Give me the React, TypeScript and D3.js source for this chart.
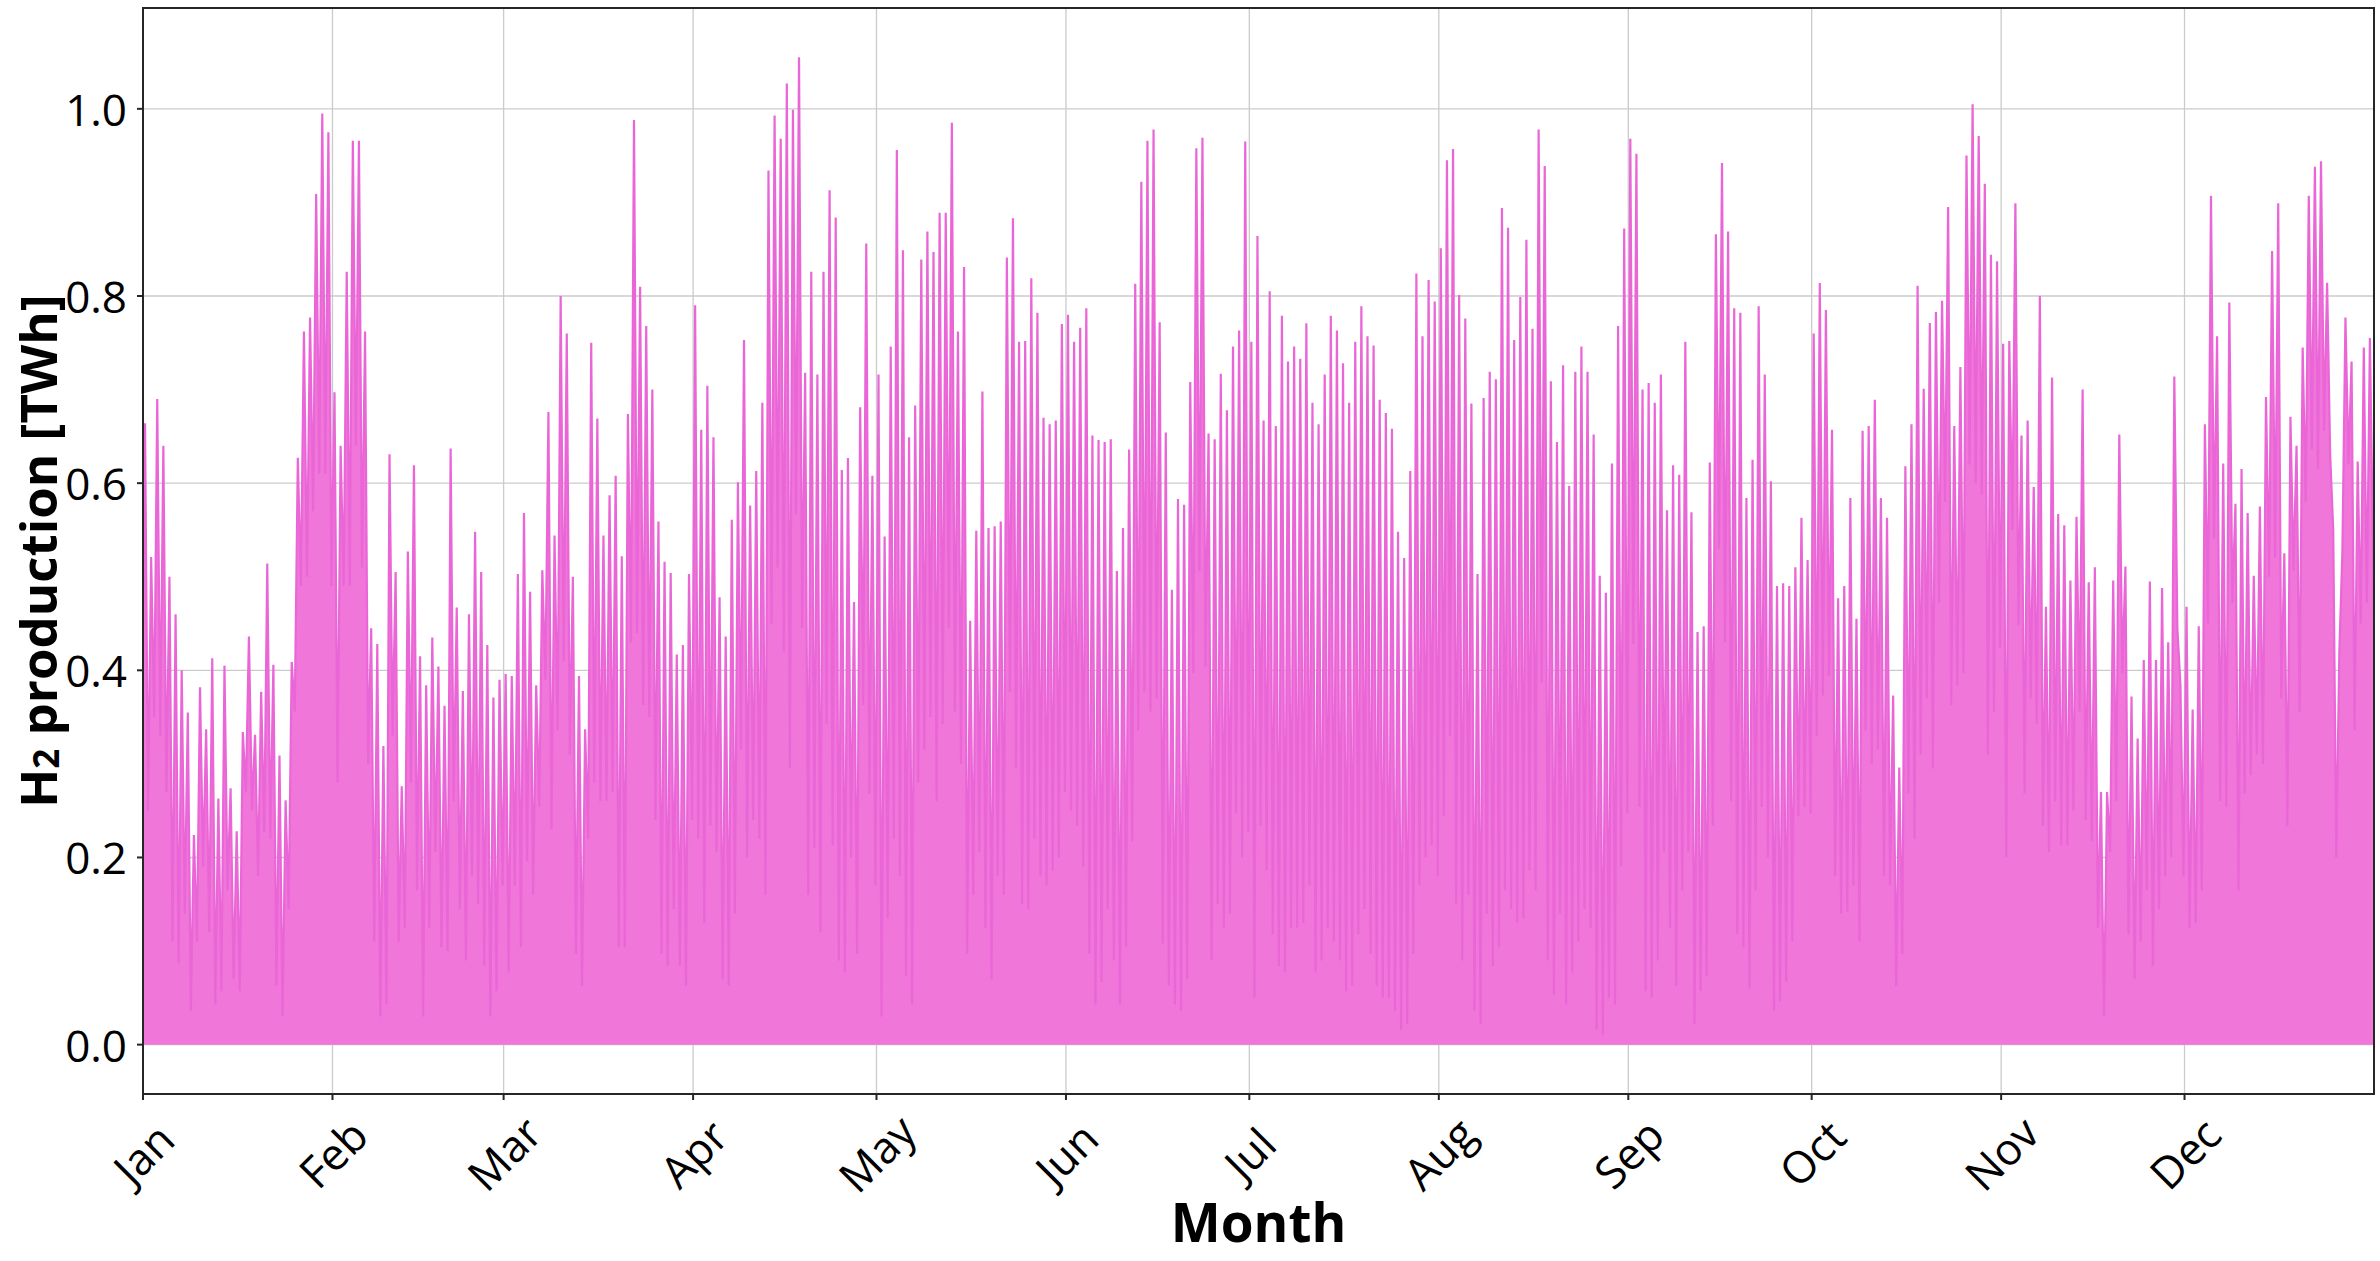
import React from "react";
import * as d3 from "d3";

// Daily peak values of H2 production (TWh), day 0 = Jan 1
const dailyPeaks: number[] = [
  0.664, 0.521, 0.69, 0.64, 0.5, 0.46, 0.4, 0.355, 0.224, 0.382,
  0.337, 0.413, 0.263, 0.405, 0.274, 0.228, 0.334, 0.436, 0.331, 0.377,
  0.514, 0.406, 0.309, 0.261, 0.409, 0.627, 0.762, 0.777, 0.909, 0.995,
  0.975, 0.697, 0.64, 0.826, 0.966, 0.966, 0.762, 0.445, 0.428, 0.319,
  0.631, 0.505, 0.276, 0.527, 0.619, 0.415, 0.384, 0.435, 0.404, 0.362,
  0.637, 0.467, 0.378, 0.46, 0.548, 0.505, 0.427, 0.371, 0.39, 0.396,
  0.394, 0.503, 0.568, 0.484, 0.384, 0.507, 0.676, 0.544, 0.8, 0.76,
  0.5, 0.394, 0.337, 0.75, 0.669, 0.544, 0.587, 0.608, 0.522, 0.674,
  0.988, 0.81, 0.768, 0.7, 0.559, 0.516, 0.504, 0.417, 0.427, 0.503,
  0.79, 0.657, 0.704, 0.649, 0.478, 0.436, 0.561, 0.601, 0.753, 0.576,
  0.613, 0.686, 0.934, 0.993, 0.968, 1.027, 0.999, 1.055, 0.718, 0.826,
  0.716, 0.826, 0.913, 0.884, 0.614, 0.627, 0.473, 0.681, 0.856, 0.608,
  0.716, 0.543, 0.746, 0.956, 0.849, 0.649, 0.683, 0.839, 0.869, 0.847,
  0.889, 0.889, 0.985, 0.762, 0.831, 0.453, 0.549, 0.698, 0.552, 0.554,
  0.559, 0.841, 0.883, 0.751, 0.752, 0.819, 0.782, 0.67, 0.663, 0.667,
  0.77, 0.78, 0.751, 0.766, 0.787, 0.651, 0.646, 0.644, 0.647, 0.506,
  0.552, 0.636, 0.813, 0.922, 0.966, 0.978, 0.772, 0.654, 0.486, 0.583,
  0.577, 0.708, 0.958, 0.969, 0.653, 0.647, 0.717, 0.678, 0.746, 0.763,
  0.965, 0.751, 0.864, 0.667, 0.805, 0.661, 0.779, 0.73, 0.746, 0.733,
  0.771, 0.686, 0.663, 0.716, 0.779, 0.763, 0.728, 0.686, 0.751, 0.789,
  0.757, 0.747, 0.689, 0.675, 0.658, 0.548, 0.52, 0.613, 0.824, 0.757,
  0.817, 0.794, 0.851, 0.945, 0.957, 0.801, 0.776, 0.685, 0.503, 0.691,
  0.719, 0.711, 0.894, 0.873, 0.753, 0.799, 0.86, 0.765, 0.978, 0.939,
  0.709, 0.644, 0.726, 0.597, 0.719, 0.746, 0.719, 0.652, 0.501, 0.483,
  0.621, 0.768, 0.872, 0.968, 0.952, 0.7, 0.707, 0.686, 0.716, 0.571,
  0.619, 0.609, 0.751, 0.569, 0.441, 0.447, 0.622, 0.866, 0.942, 0.869,
  0.787, 0.782, 0.584, 0.625, 0.789, 0.716, 0.602, 0.49, 0.493, 0.49,
  0.51, 0.563, 0.518, 0.76, 0.814, 0.785, 0.657, 0.477, 0.49, 0.584,
  0.455, 0.656, 0.661, 0.689, 0.584, 0.563, 0.373, 0.296, 0.618, 0.663,
  0.811, 0.701, 0.771, 0.783, 0.795, 0.895, 0.661, 0.724, 0.95, 1.005,
  0.971, 0.92, 0.844, 0.837, 0.749, 0.752, 0.899, 0.651, 0.667, 0.596,
  0.8, 0.468, 0.713, 0.567, 0.555, 0.496, 0.564, 0.7, 0.494, 0.51,
  0.27, 0.27, 0.496, 0.652, 0.511, 0.372, 0.327, 0.411, 0.495, 0.411,
  0.488, 0.43, 0.714, 0.385, 0.468, 0.358, 0.447, 0.663, 0.907, 0.757,
  0.621, 0.793, 0.578, 0.615, 0.568, 0.501, 0.575, 0.692, 0.848, 0.899,
  0.525, 0.671, 0.64, 0.745, 0.907, 0.938, 0.944, 0.814, 0.55, 0.42,
  0.777, 0.73, 0.623, 0.745, 0.755,
];

// Overnight minima between consecutive daily peaks (first = start of year, last = end of year)
const nightlyTroughs: number[] = [
  0.45,
  0.25, 0.35, 0.33, 0.27, 0.11, 0.087, 0.14, 0.036, 0.11, 0.19,
  0.12, 0.043, 0.057, 0.165, 0.07, 0.057, 0.27, 0.25, 0.18, 0.227,
  0.22, 0.063, 0.03, 0.145, 0.356, 0.49, 0.5, 0.57, 0.61, 0.61,
  0.49, 0.28, 0.49, 0.49, 0.64, 0.51, 0.3, 0.11, 0.03, 0.043,
  0.33, 0.11, 0.125, 0.28, 0.165, 0.03, 0.125, 0.206, 0.104, 0.1,
  0.26, 0.145, 0.09, 0.18, 0.15, 0.084, 0.03, 0.057, 0.17, 0.077,
  0.17, 0.104, 0.196, 0.16, 0.254, 0.39, 0.23, 0.336, 0.41, 0.31,
  0.097, 0.063, 0.22, 0.28, 0.26, 0.26, 0.27, 0.104, 0.104, 0.43,
  0.44, 0.363, 0.35, 0.24, 0.097, 0.084, 0.145, 0.084, 0.063, 0.24,
  0.22, 0.13, 0.234, 0.206, 0.07, 0.063, 0.14, 0.315, 0.2, 0.24,
  0.22, 0.16, 0.45, 0.51, 0.42, 0.295, 0.567, 0.445, 0.16, 0.21,
  0.12, 0.343, 0.213, 0.09, 0.077, 0.2, 0.097, 0.363, 0.268, 0.17,
  0.03, 0.135, 0.22, 0.18, 0.074, 0.043, 0.28, 0.315, 0.35, 0.26,
  0.343, 0.445, 0.356, 0.3, 0.097, 0.16, 0.206, 0.125, 0.07, 0.18,
  0.16, 0.377, 0.295, 0.15, 0.145, 0.22, 0.18, 0.17, 0.186, 0.2,
  0.27, 0.25, 0.234, 0.19, 0.097, 0.043, 0.067, 0.145, 0.09, 0.043,
  0.104, 0.217, 0.336, 0.377, 0.356, 0.37, 0.108, 0.063, 0.043, 0.036,
  0.07, 0.397, 0.506, 0.404, 0.09, 0.15, 0.125, 0.14, 0.247, 0.2,
  0.227, 0.05, 0.234, 0.186, 0.118, 0.084, 0.077, 0.125, 0.125, 0.13,
  0.17, 0.077, 0.09, 0.125, 0.11, 0.09, 0.057, 0.063, 0.118, 0.145,
  0.097, 0.063, 0.05, 0.05, 0.036, 0.016, 0.022, 0.097, 0.17, 0.2,
  0.213, 0.18, 0.244, 0.33, 0.15, 0.09, 0.16, 0.036, 0.022, 0.14,
  0.084, 0.104, 0.165, 0.145, 0.13, 0.135, 0.186, 0.165, 0.387, 0.09,
  0.053, 0.14, 0.043, 0.077, 0.11, 0.145, 0.125, 0.016, 0.01, 0.05,
  0.043, 0.19, 0.247, 0.428, 0.254, 0.057, 0.05, 0.09, 0.206, 0.125,
  0.063, 0.165, 0.206, 0.022, 0.057, 0.074, 0.234, 0.53, 0.43, 0.26,
  0.118, 0.104, 0.06, 0.165, 0.254, 0.2, 0.036, 0.046, 0.067, 0.11,
  0.244, 0.254, 0.247, 0.33, 0.373, 0.394, 0.18, 0.14, 0.142, 0.17,
  0.11, 0.336, 0.3, 0.315, 0.18, 0.17, 0.063, 0.097, 0.268, 0.22,
  0.31, 0.37, 0.295, 0.472, 0.58, 0.363, 0.384, 0.397, 0.62, 0.6,
  0.588, 0.31, 0.356, 0.424, 0.2, 0.55, 0.448, 0.268, 0.37, 0.343,
  0.234, 0.206, 0.26, 0.213, 0.213, 0.25, 0.356, 0.24, 0.217, 0.125,
  0.03, 0.206, 0.26, 0.397, 0.118, 0.07, 0.11, 0.165, 0.084, 0.145,
  0.18, 0.2, 0.445, 0.18, 0.125, 0.13, 0.165, 0.45, 0.54, 0.26,
  0.254, 0.472, 0.165, 0.268, 0.288, 0.31, 0.3, 0.5, 0.52, 0.37,
  0.234, 0.506, 0.356, 0.58, 0.636, 0.615, 0.656, 0.63, 0.2, 0.527,
  0.62, 0.336, 0.45, 0.472,
  0.454,
];

const monthLabels = ["Jan", "Feb", "Mar", "Apr", "May", "Jun", "Jul", "Aug", "Sep", "Oct", "Nov", "Dec"];
const monthStartDays = [0, 31, 59, 90, 120, 151, 181, 212, 243, 273, 304, 334];
const yTicks = [0.0, 0.2, 0.4, 0.6, 0.8, 1.0];

const W = 2380;
const H = 1261;
const M = { left: 143, right: 2374, top: 8, bottom: 1094 };
const FONT = "'Open Sans', 'Noto Sans', 'DejaVu Sans', sans-serif";

type Pt = { t: number; v: number };

export default function App() {
  const x = d3.scaleLinear().domain([0, 365]).range([M.left, M.right]);
  const maxV = d3.max(dailyPeaks) as number;
  const y = d3.scaleLinear().domain([-0.05 * maxV, 1.05 * maxV]).range([M.bottom, M.top]);

  // Assemble series: trough at night, peak in the day
  const pts: Pt[] = [];
  nightlyTroughs.forEach((v, k) => {
    const t = k === 0 ? 0 : k === nightlyTroughs.length - 1 ? 365 : k - 0.17;
    pts.push({ t, v });
    if (k < dailyPeaks.length) pts.push({ t: k + 0.33, v: dailyPeaks[k] });
  });
  pts.sort((a, b) => a.t - b.t);

  const area = d3.area<Pt>().x((d) => x(d.t)).y0(y(0)).y1((d) => y(d.v));
  const line = d3.line<Pt>().x((d) => x(d.t)).y((d) => y(d.v));

  return (
    <svg width={W} height={H} style={{ position: "absolute", left: 0, top: 0, background: "#fff" }}>
      <rect x={0} y={0} width={W} height={H} fill="#fff" />
      {/* grid */}
      <g stroke="#cbcbcb" strokeWidth={1.3}>
        {yTicks.map((t) => (
          <line key={"gy" + t} x1={M.left} x2={M.right} y1={y(t)} y2={y(t)} />
        ))}
        {monthStartDays.map((d) => (
          <line key={"gx" + d} x1={x(d)} x2={x(d)} y1={M.top} y2={M.bottom} />
        ))}
      </g>
      <defs>
        <clipPath id="plotclip">
          <rect x={M.left} y={M.top} width={M.right - M.left} height={M.bottom - M.top} />
        </clipPath>
      </defs>
      <g clipPath="url(#plotclip)">
        <path d={area(pts) as string} fill="#f076da" stroke="none" />
        <path d={line(pts) as string} fill="none" stroke="#ea66d7" strokeWidth={2.2} strokeLinejoin="miter" />
      </g>
      {/* spines */}
      <rect x={M.left} y={M.top} width={M.right - M.left} height={M.bottom - M.top} fill="none" stroke="#262626" strokeWidth={2} />
      {/* y ticks */}
      {yTicks.map((t) => (
        <g key={"yt" + t}>
          <line x1={M.left - 6} x2={M.left} y1={y(t)} y2={y(t)} stroke="#262626" strokeWidth={2} />
          <text x={M.left - 16} y={y(t)} textAnchor="end" dominantBaseline="central" fontFamily={FONT} fontSize={44} fill="#000">
            {t.toFixed(1)}
          </text>
        </g>
      ))}
      {/* x ticks */}
      {monthStartDays.map((d, i) => (
        <g key={"xt" + d}>
          <line x1={x(d)} x2={x(d)} y1={M.bottom} y2={M.bottom + 6} stroke="#262626" strokeWidth={2} />
          <text
            transform={`translate(${x(d)},${1153}) rotate(-45)`}
            textAnchor="middle"
            dominantBaseline="central"
            fontFamily={FONT}
            fontSize={44}
            fill="#000"
          >
            {monthLabels[i]}
          </text>
        </g>
      ))}
      {/* axis labels */}
      <text x={(M.left + M.right) / 2} y={1242} textAnchor="middle" fontFamily={FONT} fontWeight="bold" fontSize={53} fill="#000">
        Month
      </text>
      <text
        transform={`translate(${37},${(M.top + M.bottom) / 2}) rotate(-90)`}
        textAnchor="middle"
        dominantBaseline="central"
        fontFamily={FONT}
        fontWeight="bold"
        fontSize={51}
        fill="#000"
      >
        H<tspan fontSize={35} dy={8}>2</tspan>
        <tspan dy={-8}> production [TWh]</tspan>
      </text>
    </svg>
  );
}
